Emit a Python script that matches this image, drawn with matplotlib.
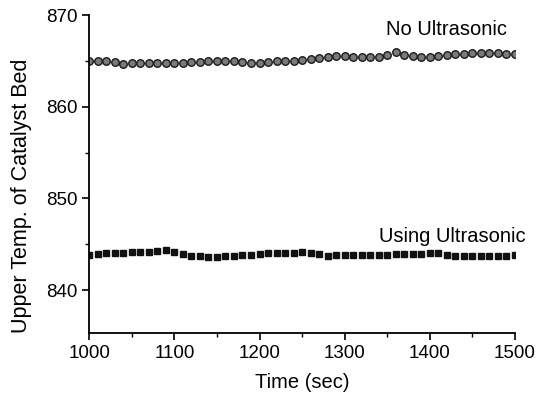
import matplotlib
matplotlib.use("Agg")
import matplotlib.pyplot as plt
from matplotlib.ticker import MultipleLocator

plt.rcParams['font.family'] = ['Liberation Sans', 'DejaVu Sans']

# time axis, one reading every 10 s
time_sec = list(range(1000, 1501, 10))

no_ultrasonic = [
    865.02, 865.02, 864.95, 864.87, 864.66, 864.73, 864.73, 864.73, 864.73, 864.80,
    864.80, 864.80, 864.87, 864.87, 865.02, 864.95, 864.95, 864.95, 864.87, 864.80,
    864.80, 864.87, 864.95, 864.95, 865.02, 865.12, 865.20, 865.27, 865.38, 865.53,
    865.53, 865.46, 865.38, 865.38, 865.38, 865.64, 865.93, 865.64, 865.53, 865.38,
    865.46, 865.53, 865.64, 865.75, 865.75, 865.82, 865.82, 865.89, 865.82, 865.75,
    865.75,
]

using_ultrasonic = [
    843.83, 843.94, 844.01, 844.01, 844.08, 844.12, 844.15, 844.19, 844.26, 844.37,
    844.12, 843.94, 843.76, 843.72, 843.65, 843.65, 843.72, 843.76, 843.79, 843.83,
    843.90, 844.01, 844.01, 844.08, 844.08, 844.12, 844.01, 843.94, 843.76, 843.79,
    843.79, 843.79, 843.83, 843.86, 843.86, 843.86, 843.90, 843.90, 843.90, 843.94,
    844.01, 844.08, 843.86, 843.72, 843.72, 843.72, 843.72, 843.72, 843.72, 843.76,
    843.83,
]

fig = plt.figure(figsize=(5.5, 3.99), dpi=100)
ax = fig.add_axes([0.1624, 0.1647, 0.7736, 0.7977])

ax.plot(time_sec, no_ultrasonic, linestyle='none', marker='o', markersize=5.4,
        markerfacecolor='#7a7a7a', markeredgecolor='#1a1a1a', markeredgewidth=1.0)
ax.plot(time_sec, using_ultrasonic, linestyle='none', marker='s', markersize=4.6,
        markerfacecolor='#111111', markeredgecolor='#111111')

ax.text(1420, 868.4, 'No Ultrasonic', fontsize=14.5, ha='center', va='center')
ax.text(1426, 845.8, 'Using Ultrasonic', fontsize=14.5, ha='center', va='center')

ax.set_xlim(1000, 1500)
ax.set_ylim(835.3, 870)
ax.xaxis.set_major_locator(MultipleLocator(100))
ax.xaxis.set_minor_locator(MultipleLocator(50))
ax.yaxis.set_major_locator(MultipleLocator(10))
ax.yaxis.set_minor_locator(MultipleLocator(5))

for side in ('top', 'right'):
    ax.spines[side].set_visible(False)
for side in ('left', 'bottom'):
    ax.spines[side].set_linewidth(1.3)

ax.tick_params(which='major', direction='out', length=5, width=1.2, labelsize=13.5)
ax.tick_params(which='minor', direction='out', length=3, width=1.0)

ax.set_xlabel('Time (sec)', fontsize=14.5, labelpad=8)
ax.set_ylabel('Upper Temp. of Catalyst Bed', fontsize=15.5)
ax.yaxis.set_label_coords(-0.135, 0.431)

fig.savefig('out.png', dpi=100)
